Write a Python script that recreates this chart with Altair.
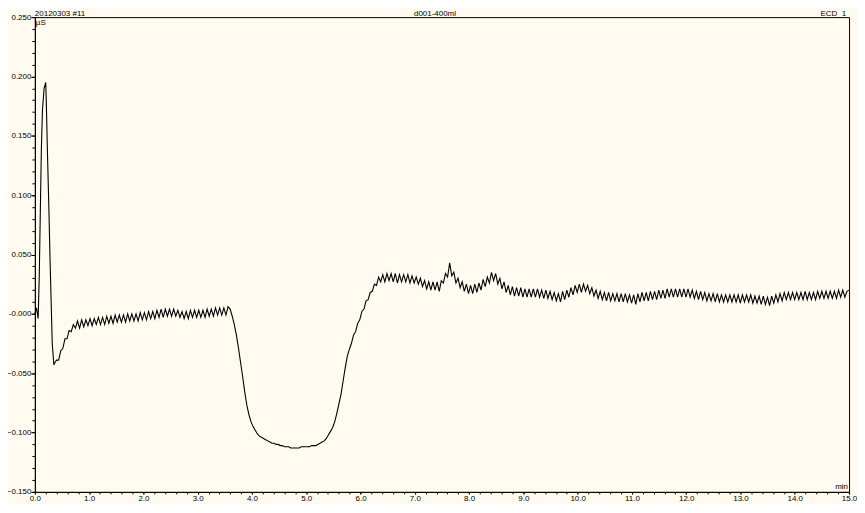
import altair as alt
import numpy as np
import pandas as pd

# ---- data (time in min, conductivity in µS) ----
# injection peak, explicit times
peak_t = [0.00, 0.03, 0.06, 0.08, 0.10, 0.12, 0.14, 0.17, 0.20, 0.21, 0.23, 0.26, 0.28, 0.30, 0.32, 0.35, 0.37]
peak_v = [0.000, 0.005, -0.004, 0.030, 0.085, 0.140, 0.172, 0.190, 0.195, 0.180, 0.139, 0.085, 0.045, 0.010, -0.025, -0.043, -0.041]

# regularly sampled trace from 0.40 to 15.0 min
baseline_early = [
    -0.039, -0.039, -0.031, -0.029, -0.021, -0.021, -0.014, -0.015, -0.009, -0.012,
    -0.006, -0.012, -0.005, -0.011, -0.005, -0.010, -0.004, -0.010, -0.004, -0.009,
    -0.003, -0.009, -0.003, -0.009, -0.002, -0.008, -0.002, -0.008, -0.001, -0.007,
    -0.001, -0.007, -0.001, -0.007, 0.000, -0.006, 0.000, -0.006, 0.000, -0.006,
    0.001, -0.005, 0.001, -0.005, 0.002, -0.004, 0.002, -0.004, 0.003, -0.003,
    0.004, -0.003, 0.004, -0.002, 0.004, -0.002, 0.004, -0.002, 0.003, -0.003,
    0.002, -0.004, 0.002, -0.004, 0.003, -0.003, 0.003, -0.003, 0.003, -0.003,
    0.003, -0.003, 0.004, -0.002, 0.004, -0.002, 0.005, -0.001, 0.005, -0.001,
    0.005, -0.001, 0.006, 0.004, -0.002, -0.009, -0.018, -0.029, -0.041, -0.053,
]
water_dip = [
    -0.066, -0.077, -0.085, -0.091, -0.095, -0.098, -0.101, -0.103, -0.104, -0.105,
    -0.106, -0.107, -0.108, -0.109, -0.109, -0.110, -0.110, -0.111, -0.111, -0.112,
    -0.112, -0.112, -0.113, -0.113, -0.113, -0.113, -0.113, -0.112, -0.112, -0.112,
    -0.112, -0.112, -0.111, -0.111, -0.111, -0.110, -0.109, -0.108, -0.107, -0.105,
    -0.102, -0.099, -0.096, -0.091, -0.084, -0.076, -0.068, -0.057, -0.046, -0.036,
    -0.030, -0.025, -0.018, -0.015, -0.008, -0.005, 0.002, 0.004, 0.011, 0.012,
]
plateau = [
    0.018, 0.019, 0.025, 0.024, 0.031, 0.027, 0.033, 0.027, 0.034, 0.028,
    0.034, 0.027, 0.034, 0.026, 0.033, 0.027, 0.033, 0.027, 0.033, 0.026,
    0.032, 0.026, 0.031, 0.025, 0.030, 0.023, 0.028, 0.021, 0.027, 0.020,
    0.027, 0.020, 0.027, 0.019, 0.028, 0.026, 0.034, 0.031, 0.043, 0.032,
    0.035, 0.026, 0.030, 0.022, 0.027, 0.019, 0.025, 0.017, 0.024, 0.017,
    0.025, 0.018, 0.026, 0.020, 0.029, 0.023, 0.031, 0.026, 0.035, 0.028,
    0.034, 0.025, 0.030, 0.021, 0.027, 0.018, 0.024, 0.016, 0.023, 0.015,
    0.022, 0.015, 0.022, 0.014, 0.021, 0.014, 0.021, 0.014, 0.021, 0.014,
    0.021, 0.014, 0.020, 0.013, 0.020, 0.013, 0.019, 0.012, 0.018, 0.011,
    0.017, 0.010, 0.019, 0.012, 0.020, 0.014, 0.022, 0.016, 0.024, 0.018,
]
tail = [
    0.025, 0.018, 0.025, 0.019, 0.024, 0.017, 0.022, 0.015, 0.020, 0.013,
    0.019, 0.012, 0.018, 0.011, 0.018, 0.011, 0.017, 0.011, 0.017, 0.010,
    0.017, 0.010, 0.017, 0.010, 0.016, 0.009, 0.016, 0.008, 0.017, 0.010,
    0.018, 0.011, 0.018, 0.011, 0.019, 0.012, 0.019, 0.012, 0.020, 0.013,
    0.020, 0.013, 0.021, 0.014, 0.021, 0.014, 0.021, 0.014, 0.021, 0.014,
    0.021, 0.014, 0.021, 0.014, 0.020, 0.013, 0.019, 0.012, 0.019, 0.012,
    0.018, 0.011, 0.017, 0.011, 0.017, 0.010, 0.017, 0.010, 0.016, 0.010,
    0.016, 0.010, 0.016, 0.010, 0.016, 0.010, 0.016, 0.009, 0.016, 0.010,
    0.016, 0.010, 0.016, 0.009, 0.015, 0.009, 0.015, 0.008, 0.015, 0.008,
    0.014, 0.007, 0.015, 0.009, 0.016, 0.010, 0.017, 0.011, 0.018, 0.012,
    0.018, 0.012, 0.018, 0.012, 0.018, 0.012, 0.018, 0.012, 0.019, 0.012,
    0.018, 0.012, 0.018, 0.012, 0.019, 0.013, 0.019, 0.013, 0.019, 0.013,
    0.019, 0.013, 0.019, 0.013, 0.020, 0.014, 0.020, 0.014, 0.019, 0.020,
]
grid_start, grid_end = 0.40, 15.0

# axis ticks
x_major = [0.0, 1.0, 2.0, 3.0, 4.0, 5.0, 6.0, 7.0, 8.0, 9.0, 10.0, 11.0, 12.0, 13.0, 14.0, 15.0]
x_minor = [round(i * 0.2, 1) for i in range(76)]
y_major = [-0.15, -0.10, -0.05, 0.0, 0.05, 0.10, 0.15, 0.20, 0.25]
y_minor = [round(-0.15 + i * 0.01, 2) for i in range(41)]

title_left = "20120303 #11"
title_mid = "d001-400ml"
title_right = "ECD_1"
y_unit = "µS"
x_unit = "min"

grid_v = baseline_early + water_dip + plateau + tail
grid_t = np.linspace(grid_start, grid_end, len(grid_v))
df = pd.DataFrame({"t": list(peak_t) + list(grid_t), "v": peak_v + grid_v})

FONT = "Liberation Sans"
FS = 8
W, H = 818, 477

xs = alt.Scale(domain=[0, 15], nice=False, zero=False)
ys = alt.Scale(domain=[-0.15, 0.25], nice=False, zero=False)

trace = alt.Chart(df).mark_line(color="black", strokeWidth=1.1).encode(
    x=alt.X("t:Q", scale=xs, title=None,
            axis=alt.Axis(values=x_major, format=".1f", tickSize=2, labelPadding=1,
                          labelOverlap=False, labelFlush=False, grid=False, orient="bottom")),
    y=alt.Y("v:Q", scale=ys, title=None,
            axis=alt.Axis(values=y_major, tickSize=4, labelPadding=0,
                          labelExpr="abs(datum.value) < 1e-9 ? '-0.000' : format(datum.value, '.3f')",
                          labelOverlap=False, labelFlush=False, grid=False, orient="left")),
)

minor = alt.Chart(df).mark_line(opacity=0).encode(
    x=alt.X("t:Q", scale=xs, title=None,
            axis=alt.Axis(values=x_minor, labels=False, tickSize=2, domain=False, grid=False, orient="bottom")),
    y=alt.Y("v:Q", scale=ys, title=None,
            axis=alt.Axis(values=y_minor, labels=False, tickSize=3, domain=False, grid=False, orient="left")),
)

one = pd.DataFrame({"k": [0]})


def txt(s, x, y, align):
    return alt.Chart(one).mark_text(
        text=s, align=align, baseline="alphabetic", font=FONT, fontSize=FS, color="black"
    ).encode(x=alt.value(x), y=alt.value(y))


texts = [
    txt(title_left, 0, -1.5, "left"),
    txt(title_mid, 402, -1.5, "center"),
    txt(title_right, 815, -1.5, "right"),
    txt(y_unit, 1, 8, "left"),
    txt(x_unit, 817, 474, "right"),
]

chart = alt.layer(trace, minor, *texts).resolve_axis(x="independent", y="independent").properties(
    width=W, height=H,
    autosize=alt.AutoSizeParams(type="none"),
    padding={"left": 27, "top": 8, "right": 8, "bottom": 11},
    background="#FFFBF0",
).configure_view(stroke="black", strokeWidth=1).configure_axis(
    domainColor="black", tickColor="black", labelColor="black",
    labelFont=FONT, labelFontSize=FS, domainWidth=1, tickWidth=1,
)

chart.save("out.html", embed_options={"renderer": "svg", "actions": False})
